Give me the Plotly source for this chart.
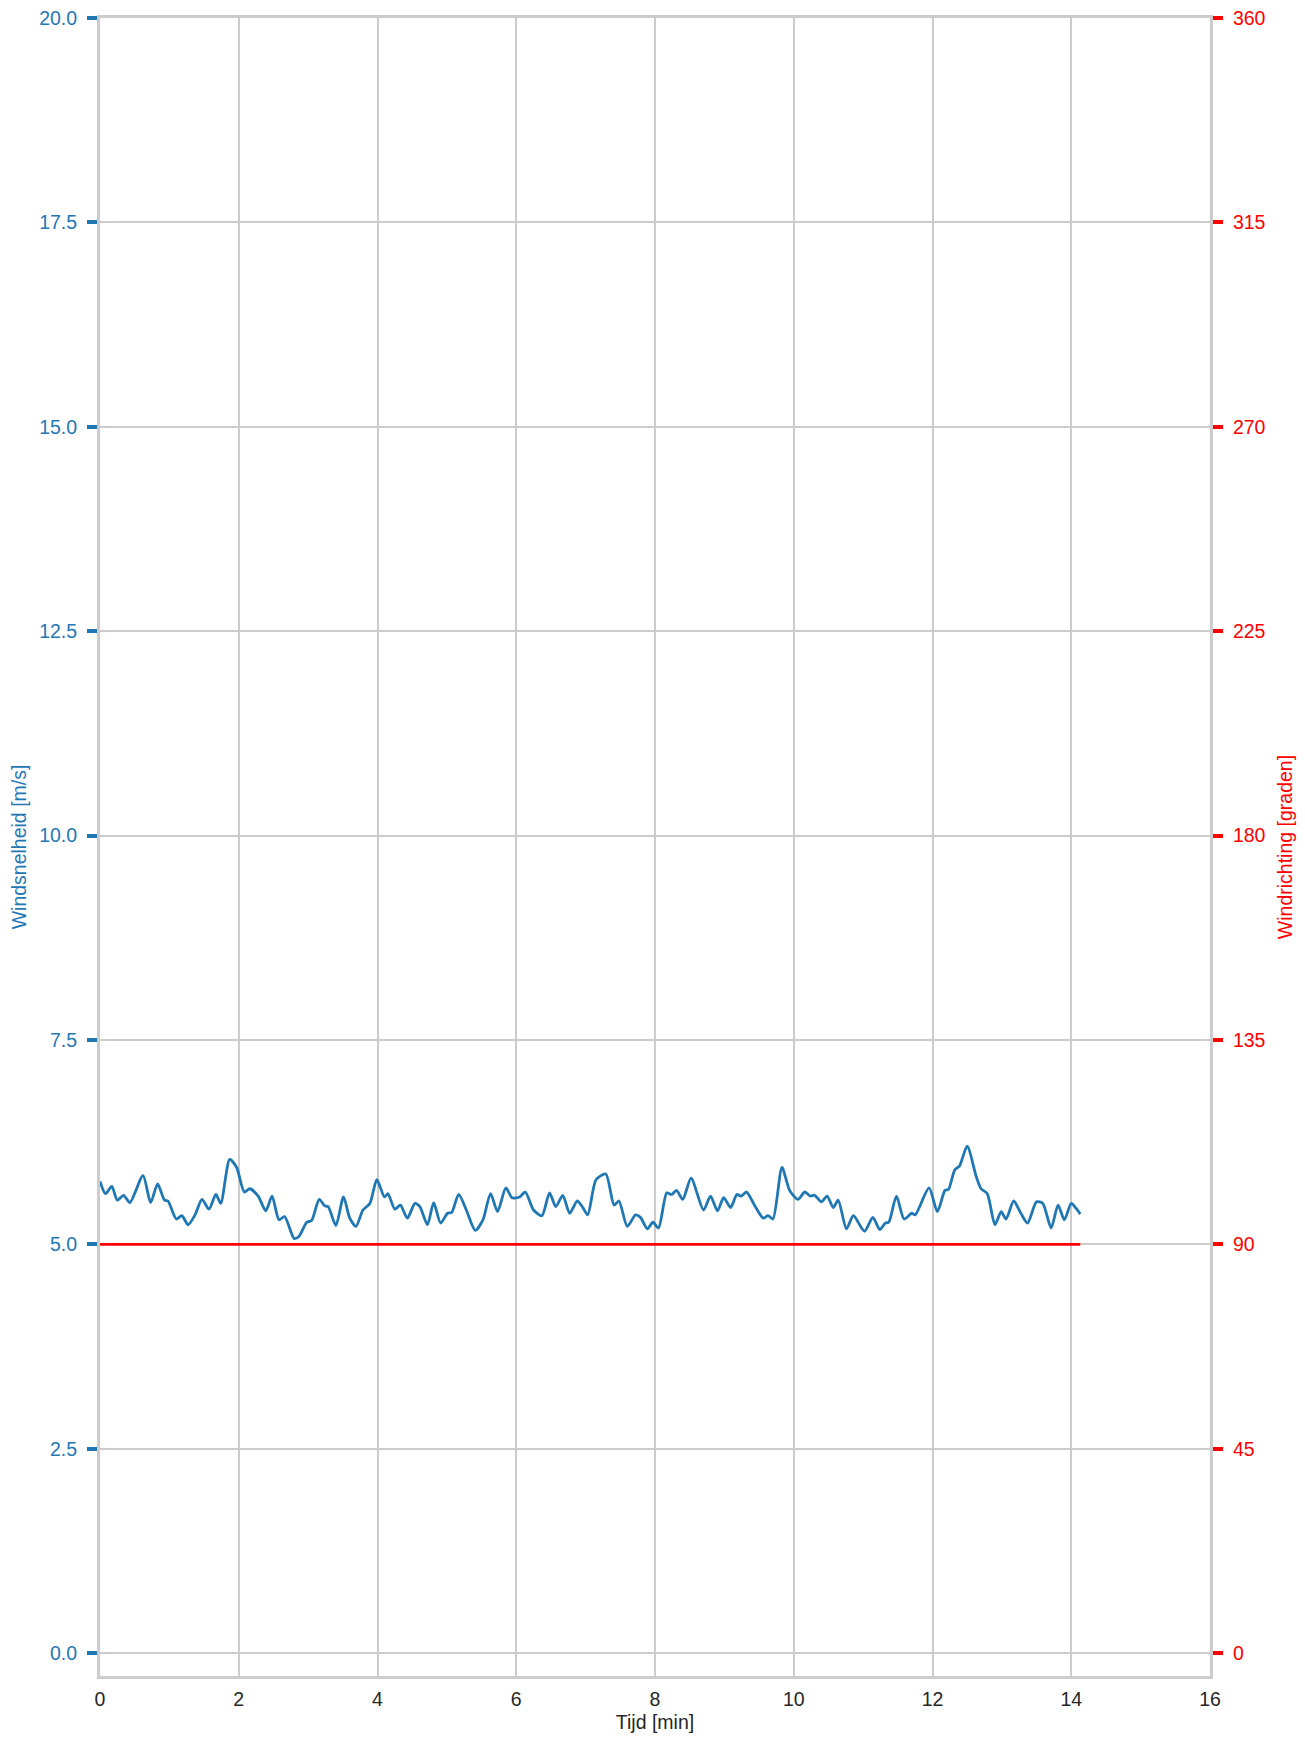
import plotly.graph_objects as go

# Data
tijd_min = [0.0, 0.08, 0.17, 0.25, 0.34, 0.43, 0.62, 0.73, 0.83, 0.93, 0.98, 1.10, 1.18, 1.27, 1.37,
            1.47, 1.57, 1.67, 1.74, 1.87, 1.97, 2.08, 2.16, 2.28, 2.39, 2.48, 2.58, 2.66, 2.80, 2.87,
            2.98, 3.05, 3.16, 3.24, 3.29, 3.40, 3.51, 3.60, 3.69, 3.79, 3.89, 3.99, 4.10, 4.15, 4.25,
            4.33, 4.43, 4.54, 4.61, 4.72, 4.81, 4.91, 5.01, 5.07, 5.17, 5.28, 5.41, 5.52, 5.63, 5.73,
            5.85, 5.94, 6.05, 6.13, 6.25, 6.37, 6.48, 6.57, 6.67, 6.77, 6.88, 6.96, 7.03, 7.15, 7.29,
            7.41, 7.48, 7.60, 7.72, 7.79, 7.89, 7.97, 8.05, 8.17, 8.24, 8.31, 8.40, 8.52, 8.70, 8.80,
            8.90, 8.99, 9.09, 9.18, 9.24, 9.32, 9.44, 9.56, 9.63, 9.70, 9.83, 9.94, 10.06, 10.16, 10.24,
            10.30, 10.40, 10.48, 10.57, 10.64, 10.76, 10.86, 11.02, 11.14, 11.24, 11.32, 11.37, 11.48,
            11.59, 11.70, 11.75, 11.95, 12.07, 12.18, 12.23, 12.32, 12.39, 12.50, 12.63, 12.70, 12.79,
            12.90, 12.99, 13.06, 13.17, 13.28, 13.37, 13.50, 13.59, 13.71, 13.81, 13.90, 14.00, 14.07,
            14.13]
windsnelheid = [5.77, 5.62, 5.71, 5.54, 5.60, 5.51, 5.84, 5.51, 5.74, 5.54, 5.53, 5.31, 5.35, 5.24, 5.36,
                5.55, 5.43, 5.61, 5.50, 6.04, 5.94, 5.64, 5.68, 5.59, 5.41, 5.59, 5.30, 5.34, 5.07, 5.10,
                5.27, 5.29, 5.55, 5.47, 5.46, 5.23, 5.58, 5.32, 5.22, 5.42, 5.50, 5.79, 5.58, 5.62, 5.43,
                5.48, 5.32, 5.50, 5.46, 5.24, 5.51, 5.26, 5.38, 5.39, 5.61, 5.42, 5.17, 5.30, 5.62, 5.40,
                5.69, 5.57, 5.58, 5.64, 5.42, 5.35, 5.63, 5.46, 5.60, 5.38, 5.53, 5.45, 5.36, 5.79, 5.86,
                5.48, 5.53, 5.22, 5.36, 5.33, 5.19, 5.27, 5.20, 5.63, 5.61, 5.66, 5.55, 5.81, 5.42, 5.59,
                5.41, 5.57, 5.45, 5.61, 5.59, 5.64, 5.47, 5.32, 5.35, 5.31, 5.94, 5.66, 5.55, 5.64, 5.59,
                5.60, 5.52, 5.59, 5.45, 5.54, 5.19, 5.35, 5.16, 5.33, 5.18, 5.26, 5.27, 5.59,
                5.31, 5.38, 5.36, 5.69, 5.40, 5.66, 5.67, 5.91, 5.96, 6.20, 5.83, 5.68, 5.62,
                5.24, 5.40, 5.31, 5.53, 5.37, 5.26, 5.52, 5.50, 5.20, 5.48, 5.30, 5.50, 5.44,
                5.37]
windrichting = [90] * len(tijd_min)

left_ticks = [0.0, 2.5, 5.0, 7.5, 10.0, 12.5, 15.0, 17.5, 20.0]
right_ticks = [0, 45, 90, 135, 180, 225, 270, 315, 360]
x_ticks = [0, 2, 4, 6, 8, 10, 12, 14, 16]

BLUE = "#1f77b4"
RED = "#ff0000"
GRID = "#cccccc"
TXT = "#262626"
FONT = "Liberation Sans, Arial, sans-serif"
FS = 19.5

fig = go.Figure()
fig.add_trace(go.Scatter(x=tijd_min, y=windsnelheid, mode="lines",
                         line=dict(color=BLUE, width=2.8, shape="spline", smoothing=0.7),
                         showlegend=False))
fig.add_trace(go.Scatter(x=tijd_min, y=windrichting, mode="lines", yaxis="y2",
                         line=dict(color=RED, width=2.8), showlegend=False))

ymin = -0.28
fig.update_layout(
    width=1297, height=1732,
    margin=dict(l=92, r=95, t=10, b=64, autoexpand=False),
    plot_bgcolor="white", paper_bgcolor="white",
    font=dict(family=FONT, size=FS, color=TXT),
    xaxis=dict(range=[0, 16], tickvals=x_ticks, showgrid=True, gridcolor=GRID, gridwidth=2,
               zeroline=False, showline=True, linecolor=GRID, linewidth=3, mirror=True,
               ticks="", tickfont=dict(size=FS, color=TXT), automargin=False,
               ticklabelstandoff=4, ticklabeloverflow="allow",
               title=dict(text="Tijd [min]", font=dict(size=FS, color=TXT), standoff=6)),
    yaxis=dict(range=[ymin, 20], tickvals=left_ticks, ticktext=[f"{v:.1f}" for v in left_ticks],
               showgrid=True, gridcolor=GRID, gridwidth=2, zeroline=False,
               showline=True, linecolor=GRID, linewidth=3, mirror=False,
               ticks="outside", ticklen=10, tickwidth=4, tickcolor=BLUE,
               tickfont=dict(size=FS, color=BLUE), automargin=False, ticklabelstandoff=6,
               ticklabeloverflow="allow",
               title=dict(text="Windsnelheid [m/s]", font=dict(size=FS, color=BLUE), standoff=10)),
    yaxis2=dict(range=[ymin * 18, 360], tickvals=right_ticks, overlaying="y", side="right",
                showgrid=False, zeroline=False, showline=True, linecolor=GRID, linewidth=3,
                ticks="outside", ticklen=10, tickwidth=4, tickcolor=RED,
                tickfont=dict(size=FS, color=RED), automargin=False, ticklabelstandoff=6,
                ticklabeloverflow="allow",
                title=dict(text="Windrichting [graden]", font=dict(size=FS, color=RED), standoff=14)),
)

fig.write_html("out.html")
